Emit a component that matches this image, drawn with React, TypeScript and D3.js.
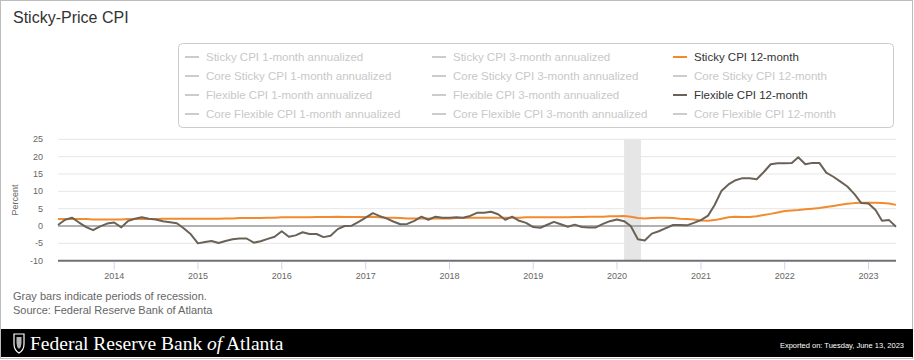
import React from "react"
import * as d3 from "d3"

// monthly observations, May 2013 .. May 2023
const startMonth = new Date(2013, 4, 1)

const flexible12 = [
  // 2013 May-Dec
  0.3, 1.8, 2.4, 1.0, -0.3, -1.2, -0.1, 0.7,
  // 2014
  1.0, -0.4, 1.4, 2.1, 2.5, 2.1, 1.9, 1.4, 1.1, 0.8, -0.7, -2.4,
  // 2015
  -5.0, -4.6, -4.3, -4.9, -4.3, -3.8, -3.6, -3.6, -4.8, -4.4, -3.7, -3.1,
  // 2016
  -1.5, -3.1, -2.7, -1.8, -2.3, -2.3, -3.2, -2.8, -0.9, 0.0, 0.1, 1.2,
  // 2017
  2.4, 3.7, 2.9, 2.2, 1.3, 0.5, 0.6, 1.5, 2.7, 1.8, 2.7, 2.4,
  // 2018
  2.4, 2.5, 2.4, 2.9, 3.8, 3.8, 4.1, 3.4, 1.8, 2.7, 1.5, 0.9,
  // 2019
  -0.3, -0.5, 0.3, 1.2, 0.5, -0.2, 0.4, -0.3, -0.4, -0.4, 0.6, 1.4,
  // 2020
  1.9, 1.4, 0.0, -3.8, -4.2, -2.2, -1.5, -0.6, 0.3, 0.3, 0.2, 0.9,
  // 2021
  1.7, 3.0, 6.0, 10.2, 12.0, 13.2, 13.8, 13.8, 13.5, 15.5, 17.8, 18.1,
  // 2022
  18.1, 18.2, 19.8, 17.8, 18.2, 18.2, 15.4, 14.2, 12.8, 11.4, 9.2, 6.6,
  // 2023 Jan-May
  6.5, 4.6, 1.5, 1.7, -0.2,
]

const sticky12 = [
  2.0, 2.0, 2.0, 2.0, 2.0, 1.9, 1.9, 1.9,
  1.9, 1.9, 2.0, 2.0, 2.0, 2.0, 2.0, 2.1, 2.1, 2.1, 2.1, 2.1,
  2.1, 2.1, 2.1, 2.1, 2.2, 2.2, 2.3, 2.3, 2.3, 2.3, 2.4, 2.4,
  2.5, 2.5, 2.5, 2.5, 2.5, 2.6, 2.6, 2.6, 2.7, 2.6, 2.6, 2.6,
  2.6, 2.7, 2.5, 2.4, 2.4, 2.3, 2.2, 2.2, 2.2, 2.2, 2.2, 2.2,
  2.2, 2.3, 2.3, 2.4, 2.4, 2.4, 2.4, 2.4, 2.4, 2.4, 2.4, 2.5,
  2.5, 2.5, 2.5, 2.5, 2.5, 2.5, 2.6, 2.6, 2.7, 2.7, 2.7, 2.8,
  2.8, 2.9, 2.7, 2.3, 2.2, 2.3, 2.4, 2.4, 2.3, 2.1, 2.0, 1.9,
  1.6, 1.5, 1.7, 2.1, 2.5, 2.7, 2.6, 2.6, 2.8, 3.2, 3.5, 3.9,
  4.3, 4.5, 4.6, 4.8, 5.0, 5.2, 5.5, 5.8, 6.1, 6.4, 6.6, 6.7,
  6.7, 6.7, 6.6, 6.5, 6.1,
]

const recessions = [[new Date(2020, 1, 1), new Date(2020, 3, 15)]]

const yTicks = [-10, -5, 0, 5, 10, 15, 20, 25]
const xTickYears = [2014, 2015, 2016, 2017, 2018, 2019, 2020, 2021, 2022, 2023]

const legendItems = [
  ["Sticky CPI 1-month annualized", "Sticky CPI 3-month annualized", "Sticky CPI 12-month"],
  ["Core Sticky CPI 1-month annualized", "Core Sticky CPI 3-month annualized", "Core Sticky CPI 12-month"],
  ["Flexible CPI 1-month annualized", "Flexible CPI 3-month annualized", "Flexible CPI 12-month"],
  ["Core Flexible CPI 1-month annualized", "Core Flexible CPI 3-month annualized", "Core Flexible CPI 12-month"],
]
const activeColors: Record<string, string> = {
  "Sticky CPI 12-month": "#f28a2e",
  "Flexible CPI 12-month": "#6b6257",
}

const W = 914
const H = 360
const font = "'Liberation Sans', Arial, sans-serif"

export default function App() {
  const dates = flexible12.map((_, i) => d3.timeMonth.offset(startMonth, i))
  const x = d3.scaleTime()
    .domain([dates[0], dates[dates.length - 1]])
    .range([58, 896])
  const y = d3.scaleLinear().domain([-10, 25]).range([260.7, 139.3])

  const line = d3.line<number>()
    .x((_, i) => x(dates[i]))
    .y(d => y(d))

  const legendCols = [185, 432, 673]
  const legendRows = [57, 76, 95, 114]

  return (
    <svg width={W} height={H} style={{ position: "absolute", left: 0, top: 0, fontFamily: font }}>
      <rect x={0} y={0} width={W} height={H} fill="#fff" />
      <rect x={0.5} y={0.5} width={W - 2} height={H - 2} fill="none" stroke="#bdbdbd" />

      <text x={13} y={23} fontSize={16} fill="#333">Sticky-Price CPI</text>

      {/* legend */}
      <rect x={178.5} y={43.5} width={715} height={84} rx={4} fill="#fff" stroke="#cccccc" />
      {legendItems.map((row, r) =>
        row.map((name, c) => {
          const col = activeColors[name]
          return (
            <g key={name} transform={`translate(${legendCols[c]},${legendRows[r]})`}>
              <line x1={0} x2={14} y1={0} y2={0} stroke={col || "#cccccc"} strokeWidth={2} />
              <text x={21} y={4} fontSize={11.5} fill={col ? "#333" : "#c8c8c8"}>{name}</text>
            </g>
          )
        })
      )}

      {/* recession bands */}
      {recessions.map(([a, b], i) => (
        <rect key={i} x={x(a)} y={y(25)} width={x(b) - x(a)} height={y(-10) - y(25)} fill="#e6e6e6" />
      ))}

      {/* grid */}
      {yTicks.map(t => (
        <g key={t}>
          {t !== -10 && t !== 0 && (
            <line x1={58} x2={896} y1={y(t)} y2={y(t)} stroke="#e6e6e6" />
          )}
          <text x={43} y={y(t) + 3} fontSize={9} fill="#666" textAnchor="end">{t}</text>
        </g>
      ))}
      <line x1={58} x2={896} y1={y(0)} y2={y(0)} stroke="#999" strokeWidth={1.5} />
      <text transform={`translate(18,${y(7.5)}) rotate(-90)`} fontSize={9} fill="#666" textAnchor="middle">Percent</text>

      {/* x axis */}
      <line x1={58} x2={896} y1={y(-10)} y2={y(-10)} stroke="#707070" strokeWidth={2} />
      {xTickYears.map(yr => {
        const px = x(new Date(yr, 0, 1))
        return (
          <g key={yr}>
            <line x1={px} x2={px} y1={y(-10) + 1} y2={y(-10) + 9} stroke="#ccd6eb" />
            <text x={px} y={279} fontSize={9} fill="#666" textAnchor="middle">{yr}</text>
          </g>
        )
      })}

      {/* series */}
      <path d={line(sticky12) || ""} fill="none" stroke="#f28a2e" strokeWidth={2} strokeLinejoin="round" />
      <path d={line(flexible12) || ""} fill="none" stroke="#6b6257" strokeWidth={2} strokeLinejoin="round" />

      <text x={13} y={300} fontSize={11} fill="#666">Gray bars indicate periods of recession.</text>
      <text x={13} y={314} fontSize={11} fill="#666">Source: Federal Reserve Bank of Atlanta</text>

      {/* footer band */}
      <rect x={1} y={329} width={W - 2} height={28} fill="#000" />
      <path d="M14,334 L24,334 L24,344 Q24,350 19,353 Q14,350 14,344 Z" fill="none" stroke="#fff" strokeWidth={1.2} />
      <path d="M16.5,337 L21.5,337 L21.5,343 Q21.5,347 19,349 Q16.5,347 16.5,343 Z" fill="#fff" opacity={0.7} />
      <text x={30} y={350} fontSize={19.5} fill="#fff" fontFamily="'Liberation Serif', 'DejaVu Serif', serif">
        Federal Reserve Bank <tspan fontStyle="italic">of</tspan> Atlanta
      </text>
      <text x={904} y={348} fontSize={7.5} fill="#fff" textAnchor="end"
        fontFamily="'Liberation Sans Narrow', 'Liberation Sans', Arial, sans-serif">Exported on: Tuesday, June 13, 2023</text>
    </svg>
  )
}
